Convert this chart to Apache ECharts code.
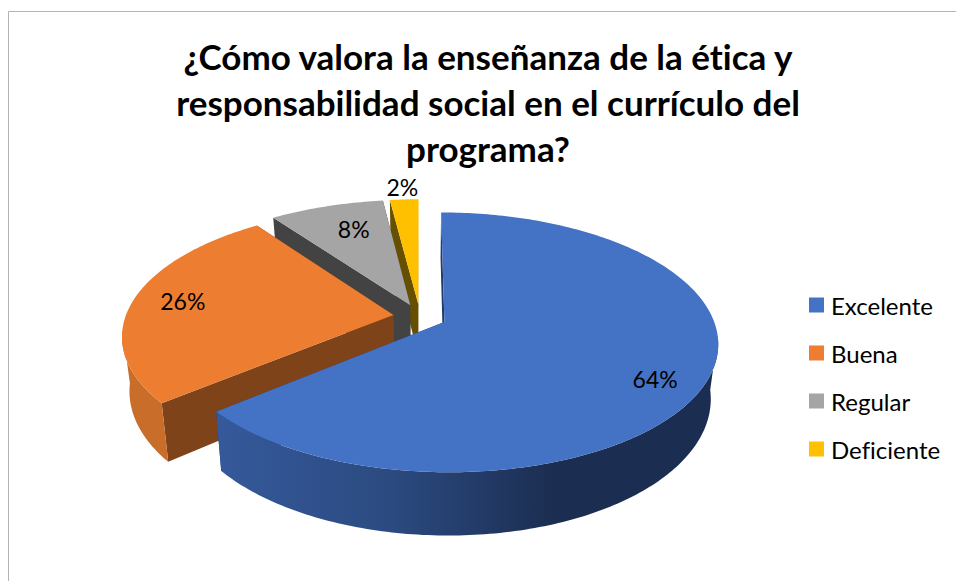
<!DOCTYPE html>
<html><head><meta charset="utf-8">
<style>html,body{margin:0;padding:0;background:#fff}#c{width:956px;height:581px}#c text{font-variant-ligatures:none !important}</style>
<script src="https://cdn.jsdelivr.net/npm/echarts@6/dist/echarts.min.js"></script>
</head><body><div id="c"></div>
<script>
const categories = ['Excelente','Buena','Regular','Deficiente'];
const values = [64,26,8,2];
const topColors = ['#4472C4','#ED7D31','#A5A5A5','#FFC000'];
const cutColors = ['#223a66','#7F431A','#434343','#665000'];
const wallStops = [
  [[0,'#35599B'],[0.35,'#2B4A80'],[0.68,'#1B2D50'],[1,'#1B2D50']],
  [[0,'#C96D2B'],[1,'#C96D2B']],
  [[0,'#636363'],[1,'#636363']],
  [[0,'#997300'],[1,'#997300']]
];
const titleText = '¿Cómo valora la enseñanza de la ética y\nresponsabilidad social en el currículo del\nprograma?';
const labelReach = [0.8,0.8,0.72,1.15];
const labelNudgeX = [3,-2,6,0];
const labelNudgeY = [11,-2,-2,1];

const CX=420, CY=316.6, R=268, RK=125, P=0.156, EXPLODE=0.1, DEPTH=53, SHRINK=0.975;
const FRONT_FACING=0.1;
const total = values.reduce((a,b)=>a+b,0);
const TAU = Math.PI*2;
function project(X,V,bottom){
  const s=1/(1-P*V);
  let x=CX+R*X*s, y=CY+RK*V*s;
  if(bottom){ x=CX+(x-CX)*SHRINK; y+=DEPTH*s; }
  return [x,y];
}
function sliceGeom(i){
  let before=0; for(let k=0;k<i;k++) before+=values[k];
  const a0=before/total*TAU, a1=(before+values[i])/total*TAU, mid=(a0+a1)/2;
  const ax=EXPLODE*Math.sin(mid), av=-EXPLODE*Math.cos(mid);
  const rim=(a,b)=>project(ax+Math.sin(a),av-Math.cos(a),b);
  return {a0,a1,mid,ax,av,rim};
}
function renderSlice(i){
  return function(){
    const g=sliceGeom(i), n=Math.max(6,Math.ceil((g.a1-g.a0)*60));
    const topRim=[], wallTop=[], wallBot=[];
    for(let k=0;k<=n;k++){
      const a=g.a0+(g.a1-g.a0)*k/n;
      topRim.push(g.rim(a,false));
      if(-Math.cos(a)>=FRONT_FACING){ wallTop.push(g.rim(a,false)); wallBot.push(g.rim(a,true)); }
    }
    const apexT=project(g.ax,g.av,false), apexB=project(g.ax,g.av,true);
    const children=[];
    children.push({type:'polygon',shape:{points:[apexT,g.rim(g.a1,false),g.rim(g.a1,true),apexB]},style:{fill:cutColors[i]}});
    children.push({type:'polygon',shape:{points:[apexT,g.rim(g.a0,false),g.rim(g.a0,true),apexB]},style:{fill:cutColors[i]}});
    if(wallTop.length>1){
      children.push({type:'polygon',shape:{points:wallTop.concat(wallBot.slice().reverse())},
        style:{fill:new echarts.graphic.LinearGradient(0,0,1,0,wallStops[i].map(s=>({offset:s[0],color:s[1]})))}});
    }
    children.push({type:'polygon',shape:{points:[apexT].concat(topRim)},style:{fill:topColors[i]}});
    const f=labelReach[i];
    const lp=project(g.ax+f*Math.sin(g.mid),g.av-f*Math.cos(g.mid),false);
    children.push({type:'text',x:lp[0]+labelNudgeX[i],y:lp[1]+labelNudgeY[i],z2:10,style:{
      text:Math.round(values[i]/total*100)+'%',fill:'#000',
      font:'23px Lato, "Open Sans", sans-serif',align:'center',verticalAlign:'middle'}});
    return {type:'group',children};
  };
}
const drawOrder=[3,2,1,0];
const chart=echarts.init(document.getElementById('c'),null,{renderer:'svg'});
chart.setOption({
  animation:false,
  backgroundColor:'#fff',
  title:{text:titleText,left:488,top:33,padding:0,textAlign:'center',
    textStyle:{fontFamily:'Lato, "Open Sans", sans-serif',fontSize:35,fontWeight:'bold',color:'#000',lineHeight:46}},
  legend:{orient:'vertical',left:809,top:293,padding:0,icon:'rect',itemWidth:15,itemHeight:15,itemGap:24,
    data:categories,selectedMode:false,
    textStyle:{fontFamily:'Lato, "Open Sans", sans-serif',fontSize:24,color:'#000',lineHeight:24,padding:[0,0,0,2]}},
  graphic:[
    {type:'line',shape:{x1:8.5,y1:11.5,x2:956,y2:11.5},style:{stroke:'#b4b4b4',lineWidth:1}},
    {type:'line',shape:{x1:8.5,y1:11.5,x2:8.5,y2:581},style:{stroke:'#b4b4b4',lineWidth:1}}
  ],
  series:drawOrder.map((i,order)=>({
    type:'custom',name:categories[i],coordinateSystem:'none',z:2+order,silent:true,
    itemStyle:{color:topColors[i]},
    data:[[values[i]]],
    renderItem:renderSlice(i)
  }))
});
</script></body></html>
